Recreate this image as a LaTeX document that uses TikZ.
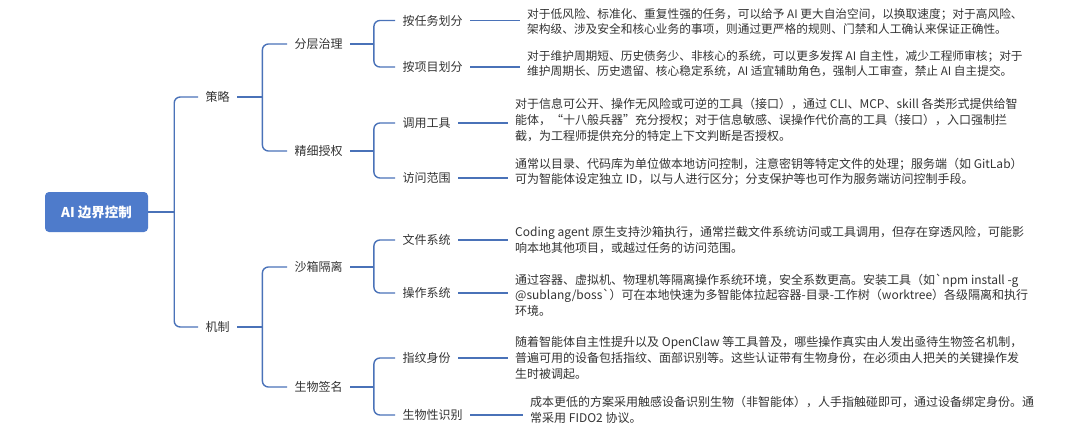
\documentclass[tikz,border=0pt]{standalone}
\usepackage{fontspec}
\newfontfamily\cjk{Noto Sans CJK SC}
\definecolor{lineblue}{HTML}{4A72B8}
\definecolor{rootblue}{HTML}{4E7BCB}
\definecolor{txt}{HTML}{333333}
\begin{document}
\begin{tikzpicture}[x=1pt,y=-1pt,
  conn/.style={draw=lineblue, line width=1.4pt, rounded corners=6pt},
  rootbox/.style={fill=rootblue, rounded corners=4pt, minimum width=103pt, minimum height=40pt, text=white, font=\cjk\bfseries\fontsize{13.5}{16}\selectfont},
  lvl/.style={anchor=west, inner xsep=7.5pt, inner ysep=2pt, font=\cjk\fontsize{12}{14}\selectfont, text=txt},
  blk/.style={anchor=west, inner xsep=7pt, inner ysep=1pt, align=left, font=\cjk\fontsize{12}{15.6}\selectfont, text=txt},
  blks/.style={blk, font=\cjk\fontsize{11.7}{15.6}\selectfont}]
\useasboundingbox (0,0) rectangle (1080,442);
% root
\node[rootbox] (root) at (96.5,212) {AI 边界控制};
% level 1
\node[lvl] (s) at (198,97) {策略};
\node[lvl] (m) at (198,327) {机制};
% level 2
\node[lvl] (fc) at (287,44) {分层治理};
\node[lvl] (jx) at (287,151) {精细授权};
\node[lvl] (sx) at (287,267) {沙箱隔离};
\node[lvl] (sw) at (287,387) {生物签名};
% level 3
\node[lvl] (a1) at (395,20.5) {按任务划分};
\node[lvl] (a2) at (395,67) {按项目划分};
\node[lvl] (b1) at (395,123) {调用工具};
\node[lvl] (b2) at (395,178) {访问范围};
\node[lvl] (c1) at (395,240) {文件系统};
\node[lvl] (c2) at (395,293) {操作系统};
\node[lvl] (d1) at (395,358) {指纹身份};
\node[lvl] (d2) at (395,415) {生物性识别};
% text blocks
\node[blks] (t1) at (520,21.5) {对于低风险、标准化、重复性强的任务，可以给予 AI 更大自治空间，以换取速度；对于高风险、\\架构级、涉及安全和核心业务的事项，则通过更严格的规则、门禁和人工确认来保证正确性。};
\node[blks] (t2) at (520,63.5) {对于维护周期短、历史债务少、非核心的系统，可以更多发挥 AI 自主性，减少工程师审核；对于\\维护周期长、历史遗留、核心稳定系统，AI 适宜辅助角色，强制人工审查，禁止 AI 自主提交。};
\node[blk] (t3) at (508,120) {对于信息可公开、操作无风险或可逆的工具（接口），通过 CLI、MCP、skill 各类形式提供给智\\能体，“十八般兵器”充分授权；对于信息敏感、误操作代价高的工具（接口），入口强制拦\\截，为工程师提供充分的特定上下文判断是否授权。};
\node[blk] (t4) at (508,172) {通常以目录、代码库为单位做本地访问控制，注意密钥等特定文件的处理；服务端（如 GitLab）\\可为智能体设定独立 ID，以与人进行区分；分支保护等也可作为服务端访问控制手段。};
\node[blk] (t5) at (508,240) {Coding agent 原生支持沙箱执行，通常拦截文件系统访问或工具调用，但存在穿透风险，可能影\\响本地其他项目，或越过任务的访问范围。};
\node[blk] (t6) at (508,295) {通过容器、虚拟机、物理机等隔离操作系统环境，安全系数更高。安装工具（如`npm install -g\\@sublang/boss`）可在本地快速为多智能体拉起容器-目录-工作树（worktree）各级隔离和执行\\环境。};
\node[blk] (t7) at (508,358) {随着智能体自主性提升以及 OpenClaw 等工具普及，哪些操作真实由人发出亟待生物签名机制，\\普遍可用的设备包括指纹、面部识别等。这些认证带有生物身份，在必须由人把关的关键操作发\\生时被调起。};
\node[blk] (t8) at (523,410) {成本更低的方案采用触感设备识别生物（非智能体），人手指触碰即可，通过设备绑定身份。通\\常采用 FIDO2 协议。};
% junctions
\coordinate (j0) at ([xshift=26pt]root.east);
\coordinate (js) at ([xshift=25pt]s.east);
\coordinate (jm) at ([xshift=25pt]m.east);
\coordinate (jfc) at ([xshift=23.5pt]fc.east);
\coordinate (jjx) at ([xshift=23.5pt]jx.east);
\coordinate (jsx) at ([xshift=23.5pt]sx.east);
\coordinate (jsw) at ([xshift=23.5pt]sw.east);
% connectors
\draw[conn] (root.east) -- (j0);
\draw[conn] (j0) |- (s.west);
\draw[conn] (j0) |- (m.west);
\draw[conn] (s.east) -- (js);
\draw[conn] (js) |- (fc.west);
\draw[conn] (js) |- (jx.west);
\draw[conn] (m.east) -- (jm);
\draw[conn] (jm) |- (sx.west);
\draw[conn] (jm) |- (sw.west);
\draw[conn] (fc.east) -- (jfc);
\draw[conn] (jfc) |- (a1.west);
\draw[conn] (jfc) |- (a2.west);
\draw[conn] (jx.east) -- (jjx);
\draw[conn] (jjx) |- (b1.west);
\draw[conn] (jjx) |- (b2.west);
\draw[conn] (sx.east) -- (jsx);
\draw[conn] (jsx) |- (c1.west);
\draw[conn] (jsx) |- (c2.west);
\draw[conn] (sw.east) -- (jsw);
\draw[conn] (jsw) |- (d1.west);
\draw[conn] (jsw) |- (d2.west);
\draw[conn] (a1.east) -- (a1.east -| t1.west);
\draw[conn] (a2.east) -- (a2.east -| t2.west);
\draw[conn] (b1.east) -- (b1.east -| t3.west);
\draw[conn] (b2.east) -- (b2.east -| t4.west);
\draw[conn] (c1.east) -- (c1.east -| t5.west);
\draw[conn] (c2.east) -- (c2.east -| t6.west);
\draw[conn] (d1.east) -- (d1.east -| t7.west);
\draw[conn] (d2.east) -- (d2.east -| t8.west);
\end{tikzpicture}
\end{document}
